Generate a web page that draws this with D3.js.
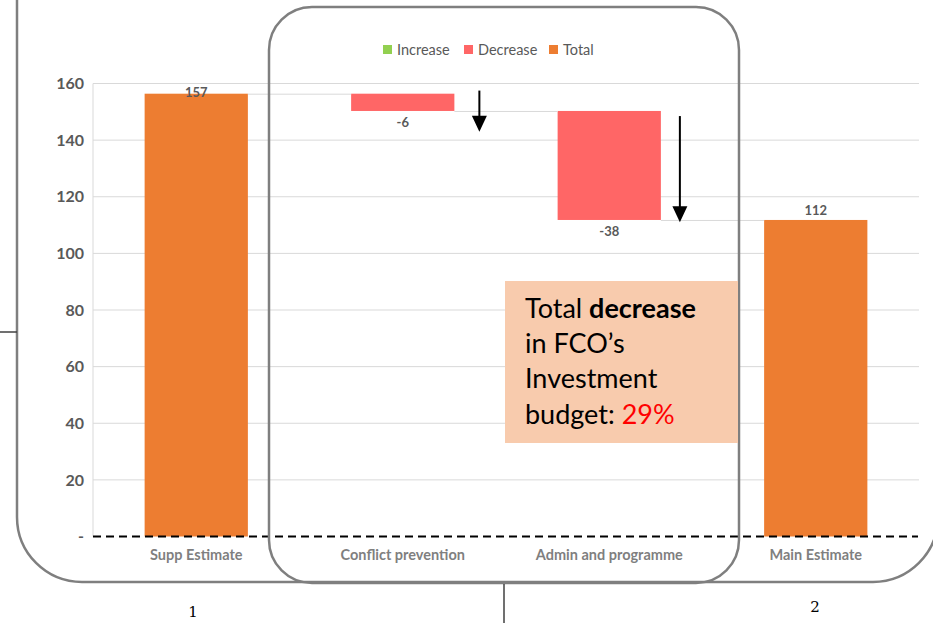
<!DOCTYPE html>
<html><head><meta charset="utf-8">
<script src="https://cdn.jsdelivr.net/npm/d3@7"></script>
<style>body{margin:0;background:#fff}svg{display:block}</style>
</head><body>
<svg id="c" width="933" height="623"></svg>
<script>
// ---- data ----
const categories = ["Supp Estimate", "Conflict prevention", "Admin and programme", "Main Estimate"];
const values = [156.4, -6.1, -38.5, 111.8];
const kinds = ["total", "decrease", "decrease", "total"];
const valueLabels = ["157", "-6", "-38", "112"];
const yTicks = [0, 20, 40, 60, 80, 100, 120, 140, 160];
const legendItems = ["Increase", "Decrease", "Total"];
const legendColors = ["#92d050", "#ff6666", "#ed7d31"];
const noteLines = [
  [{t:"Total ", w:400}, {t:"decrease", w:700}],
  [{t:"in FCO\u2019s", w:400}],
  [{t:"Investment", w:400}],
  [{t:"budget: ", w:400}, {t:"29%", w:400, c:"#ff0000"}]
];
const pageLabels = ["1", "2"];

const svg = d3.select("#c");
const font = "Lato, 'Open Sans', sans-serif";
const colorOf = {total:"#ed7d31", decrease:"#ff6666", increase:"#92d050"};

const x = d3.scaleBand().domain(categories).range([93, 919]).paddingInner(0.5).paddingOuter(0.25);
const y = d3.scaleLinear().domain([0, 160]).range([536.5, 83.5]);

// waterfall levels
let level = 0;
const bars = categories.map((c, i) => {
  let y0, y1;
  if (kinds[i] === "total") { y0 = 0; y1 = values[i]; level = values[i]; }
  else { y0 = level; y1 = level + values[i]; level = y1; }
  return {c, y0, y1, end: level, kind: kinds[i], label: valueLabels[i]};
});

// gridlines
svg.append("g").selectAll("line").data(yTicks.filter(d => d > 0)).join("line")
  .attr("x1", 93).attr("x2", 919).attr("y1", d => y(d)).attr("y2", d => y(d))
  .attr("stroke", "#d9d9d9").attr("stroke-width", 1);
svg.append("line").attr("x1", 93).attr("x2", 93).attr("y1", y(160)).attr("y2", y(0))
  .attr("stroke", "#d9d9d9").attr("stroke-width", 1);

// y axis labels
const yAxis = d3.axisLeft(y).tickValues(yTicks).tickSize(0).tickPadding(9)
  .tickFormat(d => d === 0 ? "-" : d3.format("d")(d));
const ya = svg.append("g").attr("transform", "translate(93,0)").call(yAxis);
ya.select(".domain").remove();
ya.selectAll("text").attr("font-family", font).attr("font-weight", 700)
  .attr("font-size", 16).attr("fill", "#595959");

// bars
svg.append("g").selectAll("rect").data(bars).join("rect")
  .attr("x", d => x(d.c)).attr("width", x.bandwidth())
  .attr("y", d => y(Math.max(d.y0, d.y1)))
  .attr("height", d => Math.abs(y(d.y0) - y(d.y1)))
  .attr("fill", d => colorOf[d.kind]);

// connectors
svg.append("g").selectAll("line").data(bars.slice(0, -1)).join("line")
  .attr("x1", d => x(d.c) + x.bandwidth())
  .attr("x2", (d, i) => x(categories[i + 1]))
  .attr("y1", d => y(d.end) + 0.5).attr("y2", d => y(d.end) + 0.5)
  .attr("stroke", "#d9d9d9").attr("stroke-width", 1);

// zero dashed line
svg.append("line").attr("x1", 93).attr("x2", 918).attr("y1", y(0)).attr("y2", y(0))
  .attr("stroke", "#000").attr("stroke-width", 2).attr("stroke-dasharray", "8,5");

// value labels (kept inside the plot area, like the original)
svg.append("g").selectAll("text").data(bars).join("text")
  .attr("x", d => x(d.c) + x.bandwidth() / 2)
  .attr("y", d => d.kind === "total" ? Math.max(y(d.y1) - 5, y(160) + 13.5) : y(Math.min(d.y0, d.y1)) + 16)
  .attr("text-anchor", "middle").attr("font-family", font).attr("font-weight", 700)
  .attr("font-size", 13).attr("fill", "#595959").text(d => d.label);

// category labels
const xAxis = d3.axisBottom(x).tickSize(0).tickPadding(13);
const xa = svg.append("g").attr("transform", `translate(0,${y(0)})`).call(xAxis);
xa.select(".domain").remove();
xa.selectAll("text").attr("font-family", font).attr("font-weight", 700)
  .attr("font-size", 14.5).attr("fill", "#7f7f7f");

// legend
const lg = svg.append("g");
const legendX = [383, 464, 549];
legendItems.forEach((t, i) => {
  lg.append("rect").attr("x", legendX[i]).attr("y", 45).attr("width", 9).attr("height", 9).attr("fill", legendColors[i]);
  lg.append("text").attr("x", legendX[i] + 14).attr("y", 54.5).attr("font-family", font)
    .attr("font-size", 14.5).attr("fill", "#595959").text(t);
});

// rounded boxes
svg.append("rect").attr("x", 17).attr("y", -200).attr("width", 921).attr("height", 782).attr("rx", 65)
  .attr("fill", "none").attr("stroke", "#7f7f7f").attr("stroke-width", 2.5);
svg.append("rect").attr("x", 269).attr("y", 7).attr("width", 470).attr("height", 576).attr("rx", 43)
  .attr("fill", "none").attr("stroke", "#7f7f7f").attr("stroke-width", 2.5);

// connector lines outside
svg.append("line").attr("x1", 0).attr("x2", 17).attr("y1", 332).attr("y2", 332).attr("stroke", "#404040").attr("stroke-width", 1.5);
svg.append("line").attr("x1", 504).attr("x2", 504).attr("y1", 584).attr("y2", 623).attr("stroke", "#404040").attr("stroke-width", 1.5);

// note box
svg.append("rect").attr("x", 505).attr("y", 281).attr("width", 233).attr("height", 162).attr("fill", "#f8cbad");
noteLines.forEach((line, i) => {
  const t = svg.append("text").attr("x", 525).attr("y", 318 + i * 35.2)
    .attr("font-family", "Lato, 'Open Sans', sans-serif").attr("font-size", 27).attr("fill", "#000");
  line.forEach(s => t.append("tspan").attr("font-weight", s.w).attr("fill", s.c || "#000").text(s.t));
});

// arrows (annotation) placed in data units
const arrows = [
  {after: 1, gap: 25, from: 157.5, to: 143},
  {after: 2, gap: 19, from: 148.5, to: 111}
];
arrows.forEach(a => {
  const ax = x(categories[a.after]) + x.bandwidth() + a.gap;
  svg.append("line").attr("x1", ax).attr("x2", ax).attr("y1", y(a.from)).attr("y2", y(a.to) - 12)
    .attr("stroke", "#000").attr("stroke-width", 2);
  svg.append("path").attr("d", `M${ax - 7.5},${y(a.to) - 16} L${ax + 7.5},${y(a.to) - 16} L${ax},${y(a.to)} Z`).attr("fill", "#000");
});

// page numbers
svg.append("text").attr("x", 193).attr("y", 617).attr("text-anchor", "middle")
  .attr("font-family", "'DejaVu Serif', serif").attr("font-size", 15).attr("fill", "#000").text(pageLabels[0]);
svg.append("text").attr("x", 815).attr("y", 612).attr("text-anchor", "middle")
  .attr("font-family", "'DejaVu Serif', serif").attr("font-size", 15).attr("fill", "#000").text(pageLabels[1]);
</script>
</body></html>
